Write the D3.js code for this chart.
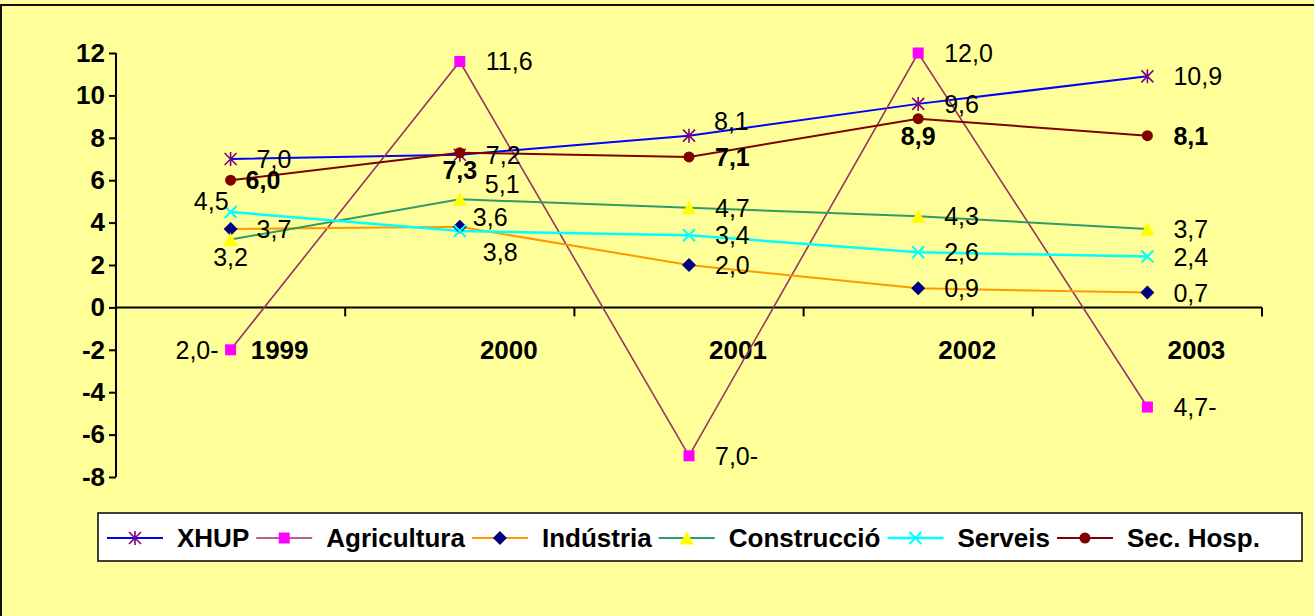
<!DOCTYPE html>
<html lang='ca'>
<head>
<meta charset='UTF-8'>
<script src='https://d3js.org/d3.v7.min.js'></script>
<title>Creixement per sectors</title>
<style>
  body { margin: 0; background: #FFFF99; }
  svg { display: block; font-family: Arial, 'Liberation Sans', sans-serif; }
</style>
</head>
<body>
<svg id='chart' width='1314' height='616'></svg>
<script>
// data
const years = ['1999', '2000', '2001', '2002', '2003']
const seriesNames = ['XHUP', 'Agricultura', 'Indústria', 'Construcció', 'Serveis', 'Sec. Hosp.']
const xhup        = [7.0, 7.2, 8.1, 9.6, 10.9]
const agricultura = [-2.0, 11.6, -7.0, 12.0, -4.7]
const industria   = [3.7, 3.8, 2.0, 0.9, 0.7]
const construccio = [3.2, 5.1, 4.7, 4.3, 3.7]
const serveis     = [4.5, 3.6, 3.4, 2.6, 2.4]
const secHosp     = [6.0, 7.3, 7.1, 8.9, 8.1]
const yTicks = [-8, -6, -4, -2, 0, 2, 4, 6, 8, 10, 12]

// where each data label sits next to its point (r = right, b = below, l = left ...)
const labelAt = [
  ['r', 'r', 'ru', 'r', 'r'],
  ['l', 'r', 'r', 'r', 'r'],
  ['r', 'rb', 'r', 'r', 'r'],
  ['b', 'ru', 'r', 'r', 'r'],
  ['al', 'rt', 'r', 'r', 'r'],
  ['rn', 'b', 'r', 'b', 'r']
]

;(function () {
  const svg = d3.select('#chart')
  const W = 1314, H = 616

  svg.append('rect').attr('width', W).attr('height', H).attr('fill', '#FFFF99')
  // chart area border (only top and left edges fall inside the picture)
  svg.append('rect').attr('x', 1).attr('y', 5).attr('width', W + 50).attr('height', H + 50)
    .attr('fill', 'none').attr('stroke', '#111').attr('stroke-width', 2)

  const x = d3.scaleBand().domain(years).range([116, 1262])
  const y = d3.scaleLinear().domain([-8, 12]).range([477, 53])
  const cx = d => x(d) + x.bandwidth() / 2

  // y axis
  const yAxis = svg.append('g').attr('transform', 'translate(116,0)')
    .call(d3.axisLeft(y).tickValues(yTicks).tickSize(7).tickPadding(4).tickFormat(d3.format('d')))
  yAxis.select('.domain').attr('stroke', '#000').attr('stroke-width', 2).attr('d', `M0,${y(12)}V${y(-8)}`)
  yAxis.selectAll('.tick line').attr('stroke', '#000').attr('stroke-width', 2)
  yAxis.selectAll('.tick text').attr('fill', '#000').attr('font-size', 26).attr('font-weight', 'bold')
    .attr('font-family', "Arial, 'Liberation Sans', sans-serif").text(d => d < 0 ? '-' + Math.abs(d) : d)

  // x axis at zero, ticks on category boundaries
  const y0 = y(0)
  svg.append('line').attr('x1', 116).attr('x2', 1262).attr('y1', y0).attr('y2', y0)
    .attr('stroke', '#000').attr('stroke-width', 2)
  const bounds = years.map(d => x(d) + x.bandwidth()).concat([x(years[0])])
  svg.selectAll('.xtick').data(bounds).enter().append('line')
    .attr('x1', d => d).attr('x2', d => d).attr('y1', y0).attr('y2', y0 + 9)
    .attr('stroke', '#000').attr('stroke-width', 2)
  svg.selectAll('.xlab').data(years).enter().append('text')
    .attr('x', d => cx(d) + 49).attr('y', y(-2)).attr('dy', '.36em')
    .attr('text-anchor', 'middle').attr('font-size', 26).attr('font-weight', 'bold').text(d => d)

  // series styles
  const styles = [
    { line: '#0000FF', lw: 2, marker: 'star', mc: '#800080' },
    { line: '#993366', lw: 1.6, marker: 'square', mc: '#FF00FF' },
    { line: '#FF9900', lw: 2, marker: 'diamond', mc: '#000080' },
    { line: '#339966', lw: 2, marker: 'triangle', mc: '#FFFF00' },
    { line: '#00FFFF', lw: 2.5, marker: 'cross', mc: '#00FFFF' },
    { line: '#800000', lw: 2, marker: 'circle', mc: '#800000' }
  ]
  const allValues = [xhup, agricultura, industria, construccio, serveis, secHosp]

  function drawMarker(g, kind, color) {
    if (kind === 'star') {
      g.append('path').attr('d', 'M-6,-6L6,6M-6,6L6,-6M0,-7L0,7')
        .attr('stroke', color).attr('stroke-width', 1.6).attr('fill', 'none')
    } else if (kind === 'square') {
      g.append('rect').attr('x', -5.5).attr('y', -5.5).attr('width', 11).attr('height', 11).attr('fill', color)
    } else if (kind === 'diamond') {
      g.append('path').attr('d', 'M0,-7L7,0L0,7L-7,0Z').attr('fill', color)
    } else if (kind === 'triangle') {
      g.append('path').attr('d', 'M0,-7L7,6.5L-7,6.5Z').attr('fill', color)
    } else if (kind === 'cross') {
      g.append('path').attr('d', 'M-6,-6L6,6M6,-6L-6,6')
        .attr('stroke', color).attr('stroke-width', 2).attr('fill', 'none')
    } else {
      g.append('circle').attr('r', 5.5).attr('fill', color)
    }
  }

  const offsets = {
    r:  { dx: 26, dy: 0, a: 'start' },
    rn: { dx: 15, dy: 0, a: 'start' },
    ru: { dx: 25, dy: -15, a: 'start' },
    rt: { dx: 13, dy: -14, a: 'start' },
    rb: { dx: 23, dy: 25, a: 'start' },
    l:  { dx: -12, dy: 0, a: 'end' },
    al: { dx: -2, dy: -11, a: 'end' },
    b:  { dx: 0, dy: 17, a: 'middle' }
  }
  const fmt = v => Math.abs(v).toFixed(1).replace('.', ',') + (v < 0 ? '-' : '')

  const line = d3.line().x((d, i) => cx(years[i])).y(d => y(d))

  allValues.forEach((vals, s) => {
    const st = styles[s]
    svg.append('path').datum(vals).attr('d', line)
      .attr('fill', 'none').attr('stroke', st.line).attr('stroke-width', st.lw)
  })
  allValues.forEach((vals, s) => {
    const st = styles[s]
    vals.forEach((v, i) => {
      const g = svg.append('g').attr('transform', `translate(${cx(years[i])},${y(v)})`)
      drawMarker(g, st.marker, st.mc)
    })
  })
  allValues.forEach((vals, s) => {
    vals.forEach((v, i) => {
      const o = offsets[labelAt[s][i]]
      svg.append('text')
        .attr('x', cx(years[i]) + o.dx).attr('y', y(v) + o.dy).attr('dy', '.36em')
        .attr('text-anchor', o.a).attr('font-size', 25)
        .attr('font-weight', s === 5 ? 'bold' : 'normal')
        .text(fmt(v))
    })
  })

  // legend
  svg.append('rect').attr('x', 98).attr('y', 513).attr('width', 1204).attr('height', 48)
    .attr('fill', '#fff').attr('stroke', '#000').attr('stroke-width', 1.5)
  let lx = 107
  const ly = 538
  seriesNames.forEach((name, s) => {
    const st = styles[s]
    svg.append('line').attr('x1', lx).attr('x2', lx + 56).attr('y1', ly).attr('y2', ly)
      .attr('stroke', st.line).attr('stroke-width', st.lw)
    drawMarker(svg.append('g').attr('transform', `translate(${lx + 28},${ly})`), st.marker, st.mc)
    const t = svg.append('text').attr('x', lx + 70).attr('y', ly).attr('dy', '.36em')
      .attr('font-size', 26).attr('font-weight', 'bold').text(name)
    lx = lx + 70 + t.node().getComputedTextLength() + 7
  })
})()
</script>
</body>
</html>
